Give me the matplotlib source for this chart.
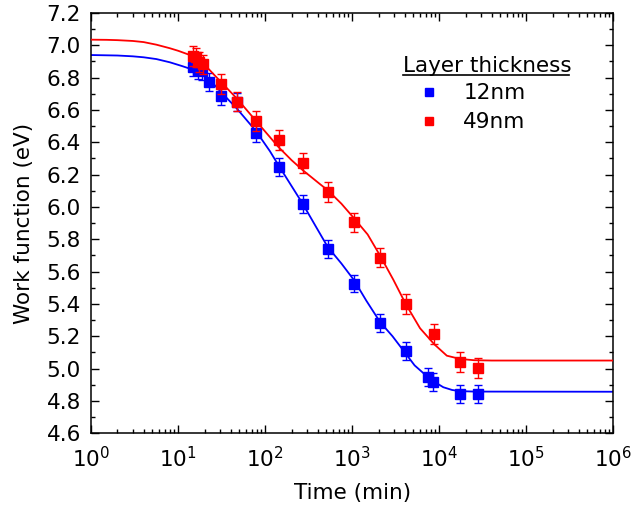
import matplotlib
matplotlib.use("Agg")
import matplotlib.pyplot as plt
from matplotlib.lines import Line2D
from matplotlib.ticker import MultipleLocator, LogLocator, NullFormatter, FormatStrFormatter, FixedLocator

plt.rcParams['font.family'] = ['DejaVu Sans']
plt.rcParams['mathtext.fontset'] = 'dejavusans'

FS = 15.5

# ---- data: 12 nm layer ----
t_12 = [14.6, 16.8, 18.7, 22.7, 30.7, 46.9, 78.2, 142, 269, 521, 1047, 2080, 4110, 7480, 8400, 17300, 27600]
wf_12 = [6.864, 6.847, 6.843, 6.775, 6.688, 6.651, 6.459, 6.245, 6.020, 5.739, 5.526, 5.280, 5.109, 4.948, 4.917, 4.841, 4.841]
err_12 = [0.055] * len(t_12)

# ---- data: 49 nm layer ----
t_49 = [14.9, 16.0, 17.4, 19.1, 30.7, 46.9, 78.2, 142, 269, 521, 1047, 2080, 4110, 8770, 17300, 27600]
wf_49 = [6.934, 6.926, 6.898, 6.882, 6.760, 6.651, 6.533, 6.414, 6.273, 6.093, 5.904, 5.686, 5.401, 5.215, 5.041, 5.004]
err_49 = [0.06] * len(t_49)

# ---- fitted curves ----
fit_t_12 = [1, 2, 3, 4, 5.6, 8, 11, 14.6, 22.7, 30.7, 46.9, 78, 113, 141, 200, 269, 380, 521, 750,
            1047, 1450, 2080, 2900, 3850, 5200, 7480, 9000, 11100, 14000, 17000, 25000, 1e6]
fit_y_12 = [6.94, 6.937, 6.932, 6.926, 6.915, 6.895, 6.872, 6.85, 6.79, 6.713, 6.61, 6.47, 6.345, 6.26,
            6.13, 6.02, 5.88, 5.753, 5.65, 5.547, 5.42, 5.289, 5.20, 5.113, 5.02, 4.945, 4.915, 4.885,
            4.868, 4.861, 4.858, 4.857]

fit_t_49 = [1, 1.5, 2, 3, 4, 5.6, 8, 10, 13.6, 19.4, 30.7, 46.9, 78, 141, 200, 269, 426, 521, 750,
            1047, 1500, 2080, 2960, 4110, 6000, 8770, 12200, 17300, 25000, 40000, 1e6]
fit_y_49 = [7.035, 7.034, 7.032, 7.027, 7.02, 7.004, 6.982, 6.966, 6.94, 6.888, 6.775, 6.672, 6.533,
            6.372, 6.29, 6.228, 6.141, 6.104, 6.02, 5.93, 5.83, 5.70, 5.55, 5.40, 5.25, 5.15, 5.08,
            5.06, 5.052, 5.05, 5.05]

x_major_ticks = [1, 10, 100, 1000, 10000, 100000, 1000000]

labels = ['12nm', '49nm']
colors = ['#0000ff', '#ff0000']

fig = plt.figure(figsize=(6.31, 5.16), dpi=100)
ax = fig.add_axes([0.1447, 0.1603, 0.8273, 0.8145])

ax.plot(fit_t_12, fit_y_12, color=colors[0], lw=1.3, zorder=2)
ax.errorbar(t_12, wf_12, yerr=err_12, fmt='s', color=colors[0], ms=7.5, mec=colors[0],
            elinewidth=1.0, capsize=3, capthick=1.0, zorder=3)
ax.plot(fit_t_49, fit_y_49, color=colors[1], lw=1.3, zorder=4)
ax.errorbar(t_49, wf_49, yerr=err_49, fmt='s', color=colors[1], ms=7.5, mec=colors[1],
            elinewidth=1.0, capsize=3, capthick=1.0, zorder=5)

ax.set_xscale('log')
ax.set_xlim(1, 1e6)
ax.set_ylim(4.6, 7.2)
ax.yaxis.set_major_locator(MultipleLocator(0.2))
ax.yaxis.set_minor_locator(MultipleLocator(0.1))
ax.yaxis.set_major_formatter(FormatStrFormatter('%.1f'))
ax.xaxis.set_major_locator(FixedLocator(x_major_ticks))
ax.xaxis.set_minor_locator(LogLocator(base=10, subs=range(2, 10), numticks=20))
ax.xaxis.set_minor_formatter(NullFormatter())

ax.tick_params(which='both', direction='in', top=True, right=True, width=1.0, labelsize=FS)
ax.tick_params(which='major', length=6)
ax.tick_params(which='minor', length=3)
ax.tick_params(axis='x', which='major', pad=9)
ax.tick_params(axis='y', which='major', pad=7.5)
for s in ax.spines.values():
    s.set_linewidth(1.1)

ax.set_xlabel('Time (min)', fontsize=FS, labelpad=9)
ax.set_ylabel('Work function (eV)', fontsize=FS, labelpad=9)

# legend title with underline
ax.text(0.597, 0.8596, 'Layer thickness', transform=ax.transAxes, fontsize=FS,
        ha='left', va='baseline')
ax.plot([0.597, 0.9157], [0.853, 0.853], transform=ax.transAxes, color='black', lw=1.2,
        clip_on=False)

handles = [Line2D([], [], ls='none', marker='s', ms=5.5, color=c, mec=c) for c in colors]
ax.legend(handles, labels, loc='upper left', bbox_to_anchor=(0.6227, 0.8327), frameon=False,
          fontsize=FS, handlelength=1.2, handletextpad=0.98, labelspacing=0.41, borderpad=0,
          borderaxespad=0)

fig.savefig('out.png', dpi=100)
